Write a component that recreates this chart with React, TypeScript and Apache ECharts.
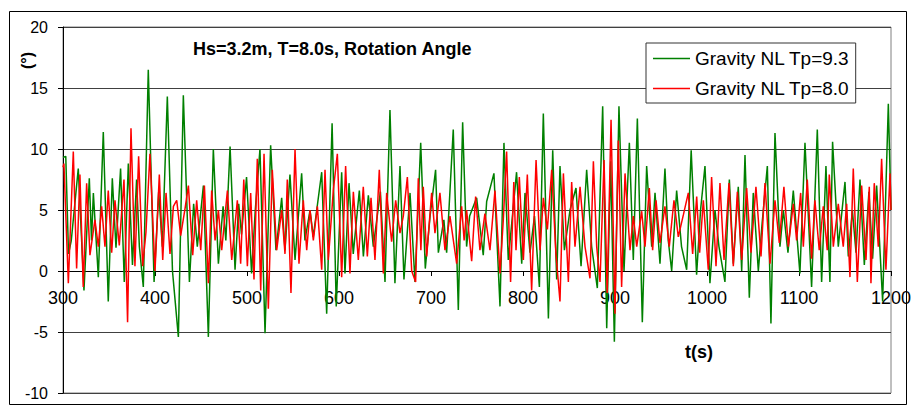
import React, { useEffect, useRef } from "react";
import * as echarts from "echarts";

const xTicks = [300, 400, 500, 600, 700, 800, 900, 1000, 1100, 1200];
const seriesNames = ["Gravity NL Tp=9.3", "Gravity NL Tp=8.0"];

const greenT = [300, 303, 306, 309, 316.6, 322.8, 328.6, 331, 333, 338.4, 343.8, 349.2, 353.6, 357.6, 362.6, 366.6, 371, 375.5, 380, 383, 387.3, 392.7, 399, 404, 408, 413.4, 419, 425.4, 430.8, 437.4, 442, 446, 452.6, 458, 463.4, 468.9, 474, 477, 481.6, 487, 491, 494, 499.5, 505, 509, 514.1, 519.6, 525.7, 531.5, 537.7, 541.3, 546.7, 552.2, 559.4, 563, 568.5, 572, 575.8, 581.2, 586.6, 592.5, 597, 602.9, 606.5, 610.9, 615.5, 622.1, 626.5, 631.9, 637.3, 645, 650, 655.4, 660.8, 666.3, 670.6, 677.2, 682.6, 688.8, 693.8, 699, 705, 708, 714, 717, 724.2, 729.7, 734.4, 738.7, 742, 749.6, 756.8, 760.5, 768.4, 775, 779.3, 784, 793, 798.6, 802.2, 807.6, 812.5, 817.8, 822.1, 827.6, 832.3, 836.6, 840.2, 845, 851.1, 857.6, 863.1, 869.2, 874.6, 880.8, 886.6, 891, 895.3, 899.3, 904.3, 909.8, 915.6, 919.9, 924.3, 929.7, 934.4, 939.9, 943.5, 948.9, 954.3, 957.9, 961.6, 967, 972.3, 977.9, 982.8, 988.7, 993, 997.8, 1003.2, 1008.7, 1013, 1019.5, 1024.3, 1028.6, 1034, 1037.7, 1041.3, 1046, 1050.3, 1055.8, 1060, 1065.6, 1069.5, 1073.9, 1079.3, 1083, 1088, 1093.8, 1101, 1106.5, 1113.7, 1119.9, 1124.6, 1129.3, 1133.6, 1136.5, 1142.7, 1150, 1153.6, 1158, 1162, 1166.3, 1171, 1176, 1180, 1184.4, 1190.9, 1197.1, 1200];
const greenV = [9.3, 9.4, 1.4, 2.5, 8.4, -1.6, 7.6, 2.5, 6.4, -0.5, 11.4, -2.5, 7.6, 1.9, 8.4, -0.9, 8.8, 0.5, 7.5, 2, -1.3, 16.5, -0.9, 6.5, 2, 14.3, 0, -5.4, 14.4, -0.9, 5.5, 2, 7.0, -5.4, 10.0, 0.6, 5.3, 2.5, 10.2, 0.1, 5.5, 3, 7.7, -0.2, 5, 10.0, -5.1, 10.3, 1.7, 6.0, 1.7, 7.9, 0.9, 8.0, 2.5, 5, 2.8, 5, 8.1, -3.5, 12.1, -2.9, 8.1, -0.2, 7.2, 1.4, 6.6, 1.2, 6.2, 2.0, 6.5, -0.9, 13.2, -1.0, 8.6, -0.7, 6.4, -0.9, 10.5, 0.2, 4.5, 8.3, 1.5, 4.2, 1.5, 11.6, -3.2, 12.2, 2.0, 4.5, 6.0, 1.3, 5.7, 8.0, -2.9, 10.5, 0.9, 8.1, 0.6, 6.4, 1.5, 4.5, -1.3, 12.9, -3.9, 9.9, -0.7, 8.6, 1.7, 5.0, 6.8, 0.4, 8.3, 2.0, -1.4, 13.5, -4.7, 9.0, -5.8, 13.5, 0.0, 10.5, 0.9, 12.5, -4.2, 8.6, 2.0, 6.4, 0.6, 8.4, 2.5, 0.0, 6.6, 2.0, 0.1, 9.9, -0.3, 5, 8.6, -1.0, 5.0, 2, -0.9, 7.5, 0.6, 6.9, 0, 9.5, -2.2, 6.4, 0, 4, 8.6, -4.3, 11.3, 2.0, 5, 1.5, 6.6, -0.2, 10.5, -1.3, 11.6, -0.9, 8.6, -0.9, 10.6, 2.0, 7.3, 1.2, 5, 1.5, 7.5, 0.5, 6.5, 1, 7.0, -2.5, 13.7, 5.0];

const redT = [300, 301, 305.8, 311.2, 314.8, 318.4, 322, 325.7, 329.3, 334.7, 338.4, 342, 345.6, 349.2, 352.9, 356.5, 361.2, 366.3, 370.2, 373.9, 378.2, 382.2, 386.6, 390.2, 394.5, 400, 404.7, 408.4, 412, 416.3, 420, 423.6, 427.9, 432.6, 436.3, 441, 445.3, 449.7, 453.7, 458, 461.6, 465.3, 468.9, 472.5, 478.7, 483.4, 489.5, 493.1, 496.5, 500.4, 504, 507.6, 511.2, 514.9, 518.5, 523.2, 527.5, 532.3, 537.7, 541.3, 543.8, 547.8, 552.2, 556.5, 561.2, 564.9, 568.5, 572.1, 576.5, 581.2, 584.8, 588.4, 593.8, 598.2, 602.9, 607.2, 611.9, 615.6, 621, 626.4, 630.8, 634.8, 639.1, 643.8, 648.2, 651.8, 657.2, 661.6, 666.3, 669.9, 674.3, 679, 683.3, 686.2, 689, 691.6, 695.3, 700.7, 704.3, 709.7, 715.2, 720.6, 727.9, 733.3, 736, 738.7, 744.2, 748.5, 753.2, 758.6, 764.1, 769.5, 775, 778.6, 782.2, 786.5, 790, 792.4, 796, 800.4, 804.7, 809.4, 814.2, 818.5, 822.1, 826.5, 831.2, 835.7, 840.2, 843.9, 849.3, 852.9, 856.5, 862, 867.4, 872.8, 876.5, 880.1, 883.7, 888.1, 891.5, 895.7, 900, 903.6, 907.2, 910.9, 916.3, 919.9, 923.6, 929, 932.6, 937.3, 940.9, 944.6, 948.9, 954.3, 959, 964.1, 968.8, 974.3, 979.7, 984.4, 988.8, 992, 996, 1001.4, 1005, 1009.8, 1014.1, 1018.5, 1023.9, 1028.6, 1033, 1037.7, 1043.1, 1047.8, 1053.2, 1058.7, 1063, 1068.5, 1073.9, 1078.6, 1083.6, 1088.4, 1093.8, 1097.4, 1101.8, 1104.7, 1109, 1113.7, 1117.3, 1122, 1126.4, 1130.7, 1132.9, 1137.3, 1142.7, 1148.1, 1151.8, 1155.4, 1159, 1163.4, 1168.1, 1172.8, 1176.4, 1178.2, 1181.8, 1186.2, 1189.8, 1194.5, 1198.9, 1200];
const redV = [8.5, 8.8, -1.0, 9.8, 0.2, 7.9, -1.3, 7.2, 1.3, 4.2, 2.0, 5.3, 2.0, 6.6, 1.5, 5.8, 2.1, 7.5, -4.2, 11.7, 0.4, 9.4, 0.4, 3.2, 9.6, 0, 7.9, 0.9, 6.4, 1.4, 5.3, 5.8, 2.9, 5.1, 7.0, 1.3, 5.8, 1.7, 7.0, -1.0, 6.6, 2.5, 5.0, 1.7, 6.6, 0.9, 5.8, 0.6, 7.5, 0.4, 6.4, -0.7, 9.2, -1.6, 9.6, -3.1, 8.3, 1.7, 5.0, 1.4, 7.5, -1.8, 10.0, 0.6, 5.8, 1.7, 5.0, 2.5, 5.3, 0.1, 8.3, 0.9, 6.6, 9.6, -0.5, 8.6, -0.2, 6.5, 0.9, 6.9, 1.2, 6.0, 0.9, 8.3, -0.2, 6.4, 2.4, 5.8, 3.1, 4.5, 7.7, 0, -0.9, 7.6, 1.7, 6.9, 1.2, 6.4, 3.1, 6.4, 1.7, 4.5, 0.6, 5.3, 2.5, 5.0, 0.8, 6.1, 1.7, 4.7, 1.7, 6.6, -0.2, 4.2, 9.8, -0.9, 7.3, 1.7, 7.7, 0.9, 7.9, -1.6, 9.1, 1.7, 6.0, 3.4, 8.3, 1.5, -2.5, 8.0, -0.9, 7.3, 2.0, 6.9, 2.0, -0.6, 9.0, 2.0, -0.9, 9.1, -1.8, 12.4, -3.5, 10.7, -1.3, 8.0, 1.7, 4.5, 2.0, 4.9, 2.0, 6.8, 1.7, 5.8, 2.3, 5.3, 2.0, 5.8, 2.8, 4.6, 6.4, 1.4, 6.1, 1.5, 5.8, 0.1, 7.7, 0.4, 7.2, 0.9, 7.2, 0.4, 6.5, 0.9, 6.8, 1.5, 6.9, 1.2, 7.2, 0.6, 5.8, 2.3, 6.9, 2.0, 5.5, 2.5, 6.4, 2.0, 7.5, 1.0, 5.8, 1.7, 5.3, 1.7, 7.9, 2.0, 5.5, 2.0, 5.5, -0.5, 8.4, -0.9, 7.0, 0.9, 6.9, -1.0, 7.2, 2.0, 9.2, 0.1, 8.0, 5.0];

const FONT = "'Liberation Sans', Arial, sans-serif";
const Y_MIN = -10;
const Y_MAX = 20;
const GRID_TOP = 27;
const GRID_BOTTOM = 16;
const CHART_H = 409;

export default function App() {
  const ref = useRef<HTMLDivElement>(null);
  useEffect(() => {
    if (!ref.current) return;
    const chart = echarts.init(ref.current, null, { renderer: "svg" });
    const greenData = greenT.map((t, i) => [t, greenV[i]]);
    const redData = redT.map((t, i) => [t, redV[i]]);
    const plotH = CHART_H - GRID_TOP - GRID_BOTTOM;
    // move the x axis from the bottom of the grid up to the y = 0 line
    const zeroOffset = -plotH * (0 - Y_MIN) / (Y_MAX - Y_MIN);
    chart.setOption({
      animation: false,
      backgroundColor: "#fff",
      textStyle: { fontFamily: FONT },
      grid: { left: 63, top: GRID_TOP, right: 25, bottom: GRID_BOTTOM, show: true, borderColor: "#808080", borderWidth: 1 },
      xAxis: {
        type: "value",
        min: xTicks[0],
        max: xTicks[xTicks.length - 1],
        interval: 100,
        offset: zeroOffset,
        axisLine: { onZero: false, lineStyle: { color: "#000", width: 1 } },
        axisTick: { show: true, length: 5, lineStyle: { color: "#000" } },
        axisLabel: { fontSize: 18, color: "#000", margin: 18, fontFamily: FONT, formatter: (v: number) => String(v) },
        splitLine: { show: false },
      },
      yAxis: {
        type: "value",
        min: Y_MIN,
        max: Y_MAX,
        interval: 5,
        axisLine: { show: true, onZero: false, lineStyle: { color: "#000", width: 1 } },
        axisTick: { show: true, length: 5, lineStyle: { color: "#000" } },
        axisLabel: { fontSize: 16, color: "#000", margin: 15, fontFamily: FONT },
        splitLine: { show: true, lineStyle: { color: "#404040", width: 1 } },
      },
      legend: {
        data: seriesNames.map((n) => ({ name: n, icon: "rect" })),
        orient: "vertical",
        left: 646,
        top: 43,
        backgroundColor: "#fff",
        borderColor: "#333",
        borderWidth: 1,
        borderRadius: 0,
        padding: [6, 6, 5, 7],
        itemWidth: 37,
        itemHeight: 1.5,
        itemGap: 11,
        textStyle: { fontSize: 19, color: "#000", fontFamily: FONT, padding: [0, 0, 0, 0] },
      },
      graphic: [
        { type: "rect", shape: { x: 9.5, y: 11.5, width: 897, height: 393 }, style: { fill: "none", stroke: "#000", lineWidth: 1 }, z: 0 },
        { type: "text", x: 193, y: 40, style: { text: "Hs=3.2m, T=8.0s, Rotation Angle", font: `bold 18px ${FONT}`, fill: "#000" }, z: 10 },
        { type: "text", x: 19, y: 69, rotation: Math.PI / 2, style: { text: "(°)", font: `bold 16px ${FONT}`, fill: "#000" }, z: 10 },
        { type: "text", x: 685, y: 343, style: { text: "t(s)", font: `bold 18px ${FONT}`, fill: "#000" }, z: 10 },
      ],
      series: [
        { name: seriesNames[0], type: "line", data: greenData, showSymbol: false, symbol: "none", lineStyle: { color: "#008000", width: 1.5 }, itemStyle: { color: "#008000" } },
        { name: seriesNames[1], type: "line", data: redData, showSymbol: false, symbol: "none", lineStyle: { color: "#ff0000", width: 1.5 }, itemStyle: { color: "#ff0000" } },
      ],
    });
    return () => chart.dispose();
  }, []);
  return <div ref={ref} style={{ position: "absolute", left: 0, top: 0, width: 916, height: 409, background: "#fff" }} />;
}
